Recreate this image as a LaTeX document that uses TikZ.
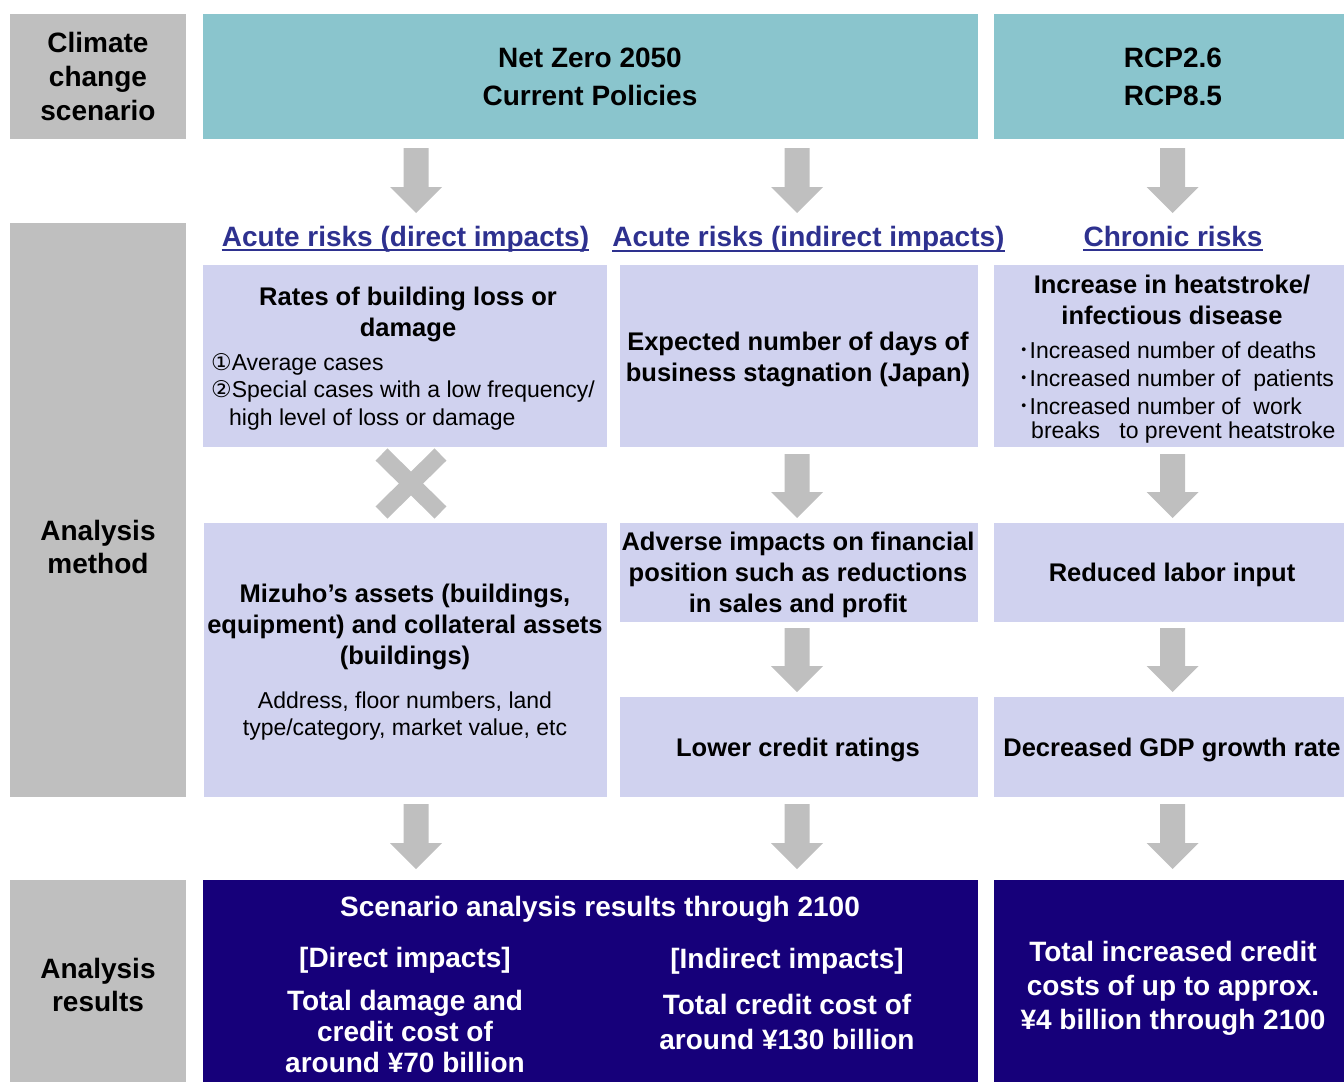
\documentclass[tikz,border=0pt]{standalone}
\usepackage{fontspec}
\setmainfont{Liberation Sans}
\newfontfamily\dejavu{DejaVu Sans}
\newfontfamily\cjkjp{Noto Sans CJK JP}
\definecolor{labgrey}{RGB}{191,191,191}
\definecolor{teal1}{RGB}{138,197,205}
\definecolor{lav}{RGB}{208,210,239}
\definecolor{navy1}{RGB}{22,0,122}
\definecolor{headblue}{RGB}{46,49,143}
\definecolor{arrowgrey}{RGB}{191,191,191}
\newcommand\garrow[3]{\fill[arrowgrey] ({#1-12.5},#2) -- ({#1+12.5},#2) -- ({#1+12.5},{#3-26}) -- ({#1+26},{#3-26}) -- (#1,#3) -- ({#1-26},{#3-26}) -- ({#1-12.5},{#3-26}) -- cycle;}
\newcommand\bul{{\cjkjp ･}}
\begin{document}
\begin{tikzpicture}[x=1pt,y=-1pt,
  rbox/.style={anchor=north west, inner sep=0pt, outer sep=0pt, draw=none},
  gbox/.style={rbox, fill=labgrey},
  tbox/.style={rbox, fill=teal1},
  lbox/.style={rbox, fill=lav},
  nbox/.style={rbox, fill=navy1},
  big/.style={font=\fontsize{28}{34}\selectfont\bfseries, anchor=base, inner sep=0pt},
  mid/.style={font=\fontsize{25.5}{31}\selectfont\bfseries, anchor=base, inner sep=0pt},
  small/.style={font=\fontsize{23}{28}\selectfont, anchor=base, inner sep=0pt},
  head/.style={big, text=headblue},
  wtxt/.style={big, text=white}]
\useasboundingbox (0,0) rectangle (1344,1082);

% left labels
\node[gbox, minimum width=176pt, minimum height=125pt] (g1) at (10,14) {};
\node[gbox, minimum width=176pt, minimum height=574pt] (g2) at (10,223) {};
\node[gbox, minimum width=176pt, minimum height=202pt] (g3) at (10,880) {};
\node[big] (g1a) at (98,52.5) {Climate};
\node[big] (g1b) at (98,86.5) {change};
\node[big] (g1c) at (98,120) {scenario};
\node[big] (g2a) at (98,540) {Analysis};
\node[big] (g2b) at (98,573) {method};
\node[big] (g3a) at (98,978) {Analysis};
\node[big] (g3b) at (98,1011) {results};

% scenario boxes
\node[tbox, minimum width=775pt, minimum height=125pt] (t1) at (203,14) {};
\node[tbox, minimum width=350pt, minimum height=125pt] (t2) at (994,14) {};
\node[big] (t1a) at (590,67) {Net Zero 2050};
\node[big] (t1b) at (590,105.5) {Current Policies};
\node[big] (t2a) at (1173,67) {RCP2.6};
\node[big] (t2b) at (1173,105.5) {RCP8.5};

% top arrows
\garrow{416}{148}{213}
\garrow{797}{148}{213}
\garrow{1172.5}{148}{213}

% headings
\node[head] (h1) at (405.5,246) {Acute risks (direct impacts)};
\node[head] (h2) at (808.5,246.5) {Acute risks (indirect impacts)};
\node[head] (h3) at (1173,246) {Chronic risks};
\foreach \h in {h1,h2,h3}{
  \draw[headblue, line width=2pt] ([yshift=-4pt]\h.base west) -- ([yshift=-4pt]\h.base east);
}

% row 1
\node[lbox, minimum width=404pt, minimum height=182pt] (a1) at (203,265) {};
\node[lbox, minimum width=358pt, minimum height=182pt] (b1) at (620,265) {};
\node[lbox, minimum width=350pt, minimum height=182pt] (c1) at (994,265) {};
\node[mid] (a1a) at (408,305) {Rates of building loss or};
\node[mid] (a1b) at (408,336) {damage};
\node[small, anchor=base west] (a1c) at (211,370) {{\dejavu ①}Average cases};
\node[small, anchor=base west] (a1d) at (211,397.5) {{\dejavu ②}Special cases with a low frequency/};
\node[small, anchor=base west] (a1e) at (229,425) {high level of loss or damage};
\node[mid] (b1a) at (798,350) {Expected number of days of};
\node[mid] (b1b) at (798,381) {business stagnation (Japan)};
\node[mid] (c1a) at (1172,293) {Increase in heatstroke/};
\node[mid] (c1b) at (1172,324) {infectious disease};
\node[small, anchor=base west] (c1c) at (1018,358) {\bul Increased number of deaths};
\node[small, anchor=base west] (c1d) at (1018,386) {\bul Increased number of\ \ patients};
\node[small, anchor=base west] (c1e) at (1018,414) {\bul Increased number of\ \ work};
\node[small, anchor=base west] (c1f) at (1031,438) {breaks\ \ \ to prevent heatstroke};

% cross mark
\coordinate (xa) at (381.5,454.5);
\coordinate (xb) at (440.5,512.5);
\coordinate (xc) at (440.5,454.5);
\coordinate (xd) at (381.5,512.5);
\draw[arrowgrey, line width=17pt, line cap=butt] (xa) -- (xb);
\draw[arrowgrey, line width=17pt, line cap=butt] (xc) -- (xd);
\garrow{797}{454}{518}
\garrow{1172.5}{454}{518}

% row 2
\node[lbox, minimum width=403pt, minimum height=274pt] (a2) at (204,523) {};
\node[lbox, minimum width=358pt, minimum height=99pt] (b2) at (620,523) {};
\node[lbox, minimum width=350pt, minimum height=99pt] (c2) at (994,523) {};
\node[mid] (a2a) at (405,602.5) {Mizuho’s assets (buildings,};
\node[mid] (a2b) at (405,633.5) {equipment) and collateral assets};
\node[mid] (a2c) at (405,664.5) {(buildings)};
\node[small] (a2d) at (405,708) {Address, floor numbers, land};
\node[small] (a2e) at (405,735) {type/category, market value, etc};
\node[mid] (b2a) at (798,550.5) {Adverse impacts on financial};
\node[mid] (b2b) at (798,581.5) {position such as reductions};
\node[mid] (b2c) at (798,612.5) {in sales and profit};
\node[mid] (c2a) at (1172,581.5) {Reduced labor input};

\garrow{797}{628}{692}
\garrow{1172.5}{628}{692}

% row 3
\node[lbox, minimum width=358pt, minimum height=100pt] (b3) at (620,697) {};
\node[lbox, minimum width=350pt, minimum height=100pt] (c3) at (994,697) {};
\node[mid] (b3a) at (798,756.5) {Lower credit ratings};
\node[mid] (c3a) at (1172,756.5) {Decreased GDP growth rate};

% bottom arrows
\garrow{416}{804}{869}
\garrow{797}{804}{869}
\garrow{1172.5}{804}{869}

% results
\node[nbox, minimum width=775pt, minimum height=202pt] (n1) at (203,880) {};
\node[nbox, minimum width=350pt, minimum height=202pt] (n2) at (994,880) {};
\node[wtxt] (n1a) at (600,916) {Scenario analysis results through 2100};
\node[wtxt] (n1b) at (405,967.5) {[Direct impacts]};
\node[wtxt] (n1c) at (405,1010.5) {Total damage and};
\node[wtxt] (n1d) at (405,1041.5) {credit cost of};
\node[wtxt] (n1e) at (405,1072.5) {around ¥70 billion};
\node[wtxt] (n1f) at (787,968) {[Indirect impacts]};
\node[wtxt] (n1g) at (787,1014) {Total credit cost of};
\node[wtxt] (n1h) at (787,1049) {around ¥130 billion};
\node[wtxt] (n2a) at (1173,961) {Total increased credit};
\node[wtxt] (n2b) at (1173,995.5) {costs of up to approx.};
\node[wtxt] (n2c) at (1173,1029) {¥4 billion through 2100};
\end{tikzpicture}
\end{document}
